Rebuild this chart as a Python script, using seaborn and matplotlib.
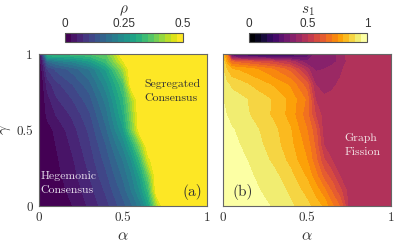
import matplotlib
matplotlib.use("Agg")
import matplotlib.pyplot as plt
from matplotlib.colors import ListedColormap, BoundaryNorm
import seaborn as sns
import numpy as np

sns.set_style("white")
plt.rcParams['mathtext.fontset'] = 'cm'
plt.rcParams['font.family'] = ['cmr10', 'DejaVu Serif']
plt.rcParams['axes.formatter.use_mathtext'] = True

alpha = [0, .02, .05, .1, .2, .3, .4, .5, .55, .6, .65, .7, .75, .8, 1]
gamma = [0, .1, .2, .3, .4, .5, .6, .7, .8, .9, .95, 1]

# rho, one row per gamma value
rho = np.array([
    [0, .002, .005, .01, .025, .055, .09, .14, .17, .21, .28, .42, .51, .51, .51],
    [0, .003, .007, .013, .032, .065, .105, .16, .20, .25, .33, .50, .51, .51, .51],
    [0, .004, .01, .017, .04, .075, .12, .18, .22, .28, .38, .51, .51, .51, .51],
    [0, .005, .012, .02, .047, .085, .135, .2, .25, .33, .46, .51, .51, .51, .51],
    [0, .006, .014, .025, .055, .095, .15, .23, .30, .40, .51, .51, .51, .51, .51],
    [0, .007, .016, .03, .065, .105, .17, .27, .38, .50, .51, .51, .51, .51, .51],
    [0, .01, .03, .05, .08, .12, .19, .30, .40, .51, .51, .51, .51, .51, .51],
    [0, .012, .04, .07, .10, .14, .21, .32, .42, .51, .51, .51, .51, .51, .51],
    [0, .015, .06, .09, .125, .165, .24, .35, .50, .51, .51, .51, .51, .51, .51],
    [0, .03, .10, .13, .16, .20, .28, .42, .51, .51, .51, .51, .51, .51, .51],
    [0, .05, .17, .20, .23, .27, .34, .47, .51, .51, .51, .51, .51, .51, .51],
    [0, .10, .34, .34, .34, .35, .37, .51, .51, .51, .51, .51, .51, .51, .51],
])

# s1, one row per gamma value
s1 = np.array([
    [.98, .98, .98, .98, .97, .945, .91, .865, .825, .79, .71, .64, .48, .475, .475],
    [.98, .98, .98, .975, .955, .93, .89, .83, .78, .72, .64, .56, .475, .475, .475],
    [.98, .98, .98, .97, .945, .915, .865, .79, .72, .63, .57, .49, .475, .475, .475],
    [.98, .98, .975, .965, .93, .89, .835, .75, .67, .56, .50, .475, .475, .475, .475],
    [.98, .98, .97, .95, .915, .875, .815, .73, .64, .50, .475, .475, .475, .475, .475],
    [.98, .97, .955, .94, .905, .865, .805, .70, .62, .475, .475, .475, .475, .475, .475],
    [.97, .95, .935, .92, .885, .84, .78, .67, .55, .475, .475, .475, .475, .475, .475],
    [.95, .93, .92, .915, .88, .845, .785, .69, .50, .465, .465, .47, .475, .475, .475],
    [.94, .91, .89, .87, .83, .79, .74, .62, .45, .42, .44, .46, .475, .475, .475],
    [.90, .85, .80, .79, .75, .70, .63, .47, .39, .40, .41, .44, .475, .475, .475],
    [.88, .78, .65, .62, .58, .54, .48, .36, .36, .37, .39, .41, .47, .475, .475],
    [.85, .70, .20, .13, .12, .12, .13, .25, .36, .37, .38, .42, .475, .475, .475],
])

W, H = 395, 243


def panel(x0, z, pal, vmax, cticks, clabels, cname):
    ax = fig.add_axes([x0 / W, 1 - 206 / H, 168 / W, 152 / H])
    levels = np.linspace(0, vmax, 21)
    cmap = ListedColormap(plt.get_cmap(pal)(np.linspace(0, 1, 20)))
    norm = BoundaryNorm(levels, 20)
    sns.despine(ax=ax, top=False, right=False)
    ax.contourf(alpha, gamma, z, levels=levels, cmap=cmap, norm=norm, extend='both')
    ax.set_xlim(0, 1)
    ax.set_ylim(0, 1)
    ax.set_xticks([0, .5, 1], ['0', '0.5', '1'])
    ax.tick_params(direction='in', length=1.5, width=.5, top=True, right=True,
                   labelsize=9.5, pad=4.5, color='#444444', labelcolor='#333333')
    ax.set_xlabel(r'$\alpha$', fontsize=11.5, labelpad=4, color='#333333')
    for s in ax.spines.values():
        s.set_color('#666666')
        s.set_linewidth(.8)

    cax = fig.add_axes([(x0 + 26) / W, 1 - 42 / H, 118 / W, 9 / H])
    sm = plt.cm.ScalarMappable(norm=norm, cmap=cmap)
    cb = fig.colorbar(sm, cax=cax, orientation='horizontal', spacing='proportional')
    cb.set_ticks(cticks, labels=clabels)
    cb.minorticks_off()
    cax.xaxis.set_ticks_position('top')
    cax.xaxis.set_label_position('top')
    cax.tick_params(length=1, width=.4, labelsize=8.5, pad=2.5, direction='in',
                    color='#444444', labelcolor='#333333')
    for t in cax.get_xticklabels():
        t.set_fontfamily('Liberation Sans')
    cb.outline.set_edgecolor('#555555')
    cb.outline.set_linewidth(.8)
    cax.set_xlabel(cname, fontsize=11, labelpad=3, color='#333333')
    return ax


fig = plt.figure(figsize=(W / 100, H / 100), dpi=100)

ax1 = panel(39, rho, 'viridis', .5, [0, .25, .5], ['0', '0.25', '0.5'], r'$\rho$')
ax1.set_yticks([0, .5, 1], ['0', '0.5', '1'])
ax1.set_ylabel(r'$\gamma$', fontsize=11.5, labelpad=2, color='#333333')
ax1.text(.625, .755, 'Segregated\nConsensus', fontsize=8.5, color='#333333',
         transform=ax1.transAxes, va='center', linespacing=1.6)
ax1.text(.01, .15, 'Hegemonic\nConsensus', fontsize=8.5, color='#e8e0ee',
         transform=ax1.transAxes, va='center', linespacing=1.6)
ax1.text(.855, .09, '(a)', fontsize=11, color='#333333',
         transform=ax1.transAxes, va='center')

ax2 = panel(223, s1, 'inferno', 1, [0, .5, 1], ['0', '0.5', '1'], r'$s_1$')
ax2.set_yticks([0, .5, 1], [])
ax2.text(.725, .40, 'Graph\nFission', fontsize=8.5, color='#f3e3e6',
         transform=ax2.transAxes, va='center', linespacing=1.6)
ax2.text(.055, .09, '(b)', fontsize=11, color='#333333',
         transform=ax2.transAxes, va='center')

fig.savefig('out.png', dpi=100)
